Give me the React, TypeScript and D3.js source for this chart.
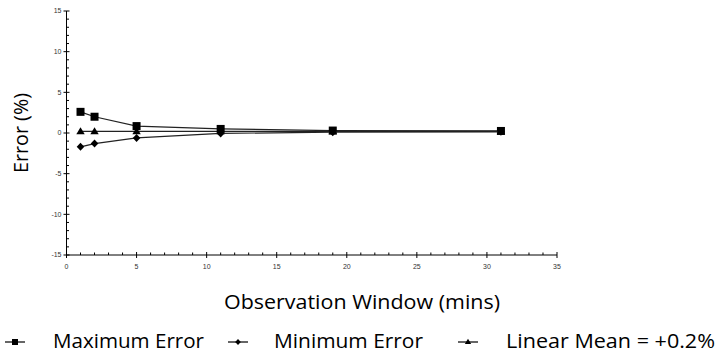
import React from "react";
import * as d3 from "d3";

const windows = [1, 2, 5, 11, 19, 31];
const maxError = [2.6, 2.0, 0.85, 0.5, 0.3, 0.25];
const minError = [-1.7, -1.3, -0.6, -0.05, 0.1, 0.15];
const linearMean = [0.2, 0.2, 0.2, 0.2, 0.2, 0.2];
const xTicks = [0, 5, 10, 15, 20, 25, 30, 35];
const yTicks = [-15, -10, -5, 0, 5, 10, 15];
const legendLabels = ["Maximum Error", "Minimum Error", "Linear Mean = +0.2%"];

const W = 728;
const H = 356;
const x = d3.scaleLinear().domain([0, 35]).range([66.5, 557]);
const y = d3.scaleLinear().domain([-15, 15]).range([255, 11]);

const titleFont = "'Open Sans', 'Noto Sans', sans-serif";
const tickFont = "'Liberation Sans', Arial, sans-serif";

function Marker({ kind, cx, cy, s = 1 }: { kind: string; cx: number; cy: number; s?: number }) {
  if (kind === "square") {
    const h = 4 * s;
    return <rect x={cx - h} y={cy - h} width={2 * h} height={2 * h} fill="#000" />;
  }
  if (kind === "diamond") {
    const w = 3.8 * s;
    const h = 4 * s;
    return (
      <path
        d={`M${cx},${cy - h}L${cx + w},${cy}L${cx},${cy + h}L${cx - w},${cy}Z`}
        fill="#000"
      />
    );
  }
  const w = 4.2 * s;
  const h = 7 * s;
  return (
    <path
      d={`M${cx},${cy - h * 0.6}L${cx + w},${cy + h * 0.4}L${cx - w},${cy + h * 0.4}Z`}
      fill="#000"
    />
  );
}

export default function App() {
  const line = d3
    .line<[number, number]>()
    .x((d) => x(d[0]))
    .y((d) => y(d[1]));
  const series = [
    { vals: linearMean, kind: "triangle" },
    { vals: maxError, kind: "square" },
    { vals: minError, kind: "diamond" },
  ];
  const minorX = d3.range(0, 36, 1).filter((v) => v % 5 !== 0);
  const minorY = d3.range(-15, 16, 1).filter((v) => v % 5 !== 0);
  const legendX = [15, 238, 468];
  const legendTextX = [53, 274, 506];
  const legendKinds = ["square", "diamond", "triangle"];
  const legendW = [151, 149, 209];
  return (
    <svg
      width={W}
      height={H}
      style={{ position: "absolute", left: 0, top: 0, background: "#fff" }}
    >
      <line x1={x(0)} x2={x(0)} y1={y(-15)} y2={y(15)} stroke="#000" strokeWidth={1} />
      <line x1={x(0)} x2={x(35)} y1={y(-15)} y2={y(-15)} stroke="#000" strokeWidth={1} />
      {yTicks.map((t) => (
        <g key={"yt" + t}>
          <line x1={x(0) - 3} x2={x(0) + 3} y1={y(t)} y2={y(t)} stroke="#000" />
          <text
            x={x(0) - 5}
            y={y(t)}
            dy="0.35em"
            textAnchor="end"
            fontSize={7}
            fontFamily={tickFont}
            fill="#333"
          >
            {t}
          </text>
        </g>
      ))}
      {minorY.map((t) => (
        <line key={"ym" + t} x1={x(0)} x2={x(0) + 2.5} y1={y(t)} y2={y(t)} stroke="#000" />
      ))}
      {xTicks.map((t) => (
        <g key={"xt" + t}>
          <line x1={x(t)} x2={x(t)} y1={y(-15) - 3} y2={y(-15) + 3} stroke="#000" />
          <text
            x={x(t)}
            y={y(-15) + 14}
            textAnchor="middle"
            fontSize={7}
            fontFamily={tickFont}
            fill="#333"
          >
            {t}
          </text>
        </g>
      ))}
      {minorX.map((t) => (
        <line key={"xm" + t} x1={x(t)} x2={x(t)} y1={y(-15)} y2={y(-15) - 2.5} stroke="#000" />
      ))}
      {series.map((s, i) => (
        <g key={"s" + i}>
          <path
            d={line(windows.map((w, j) => [w, s.vals[j]] as [number, number])) as string}
            fill="none"
            stroke="#222"
            strokeWidth={1.2}
          />
          {windows.map((w, j) => (
            <Marker key={j} kind={s.kind} cx={x(w)} cy={y(s.vals[j])} />
          ))}
        </g>
      ))}
      <text
        transform={`translate(28,${(y(15) + y(-15)) / 2}) rotate(-90)`}
        textAnchor="middle"
        fontSize={20}
        fontFamily={titleFont}
        fill="#000"
        textLength={80}
        lengthAdjust="spacingAndGlyphs"
      >
        Error (%)
      </text>
      <text
        x={362}
        y={309}
        textAnchor="middle"
        fontSize={20}
        fontFamily={titleFont}
        fill="#000"
        textLength={276}
        lengthAdjust="spacingAndGlyphs"
      >
        Observation Window (mins)
      </text>
      {legendLabels.map((lab, i) => (
        <g key={"lg" + i}>
          <line x1={legendX[i] - 10} x2={legendX[i] + 10} y1={342} y2={342} stroke="#000" strokeWidth={1.2} />
          <Marker kind={legendKinds[i]} cx={legendX[i]} cy={342} s={0.75} />
          <text
            x={legendTextX[i]}
            y={348}
            fontSize={20}
            fontFamily={titleFont}
            fill="#000"
            textLength={legendW[i]}
            lengthAdjust="spacingAndGlyphs"
          >
            {lab}
          </text>
        </g>
      ))}
    </svg>
  );
}
